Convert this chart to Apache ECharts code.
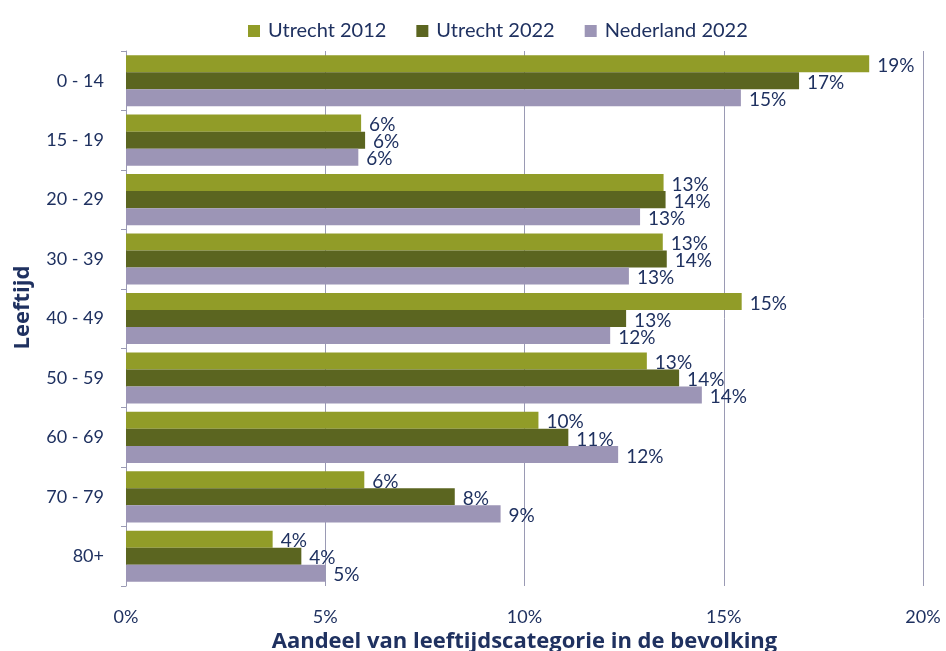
<!DOCTYPE html>
<html>
<head>
<meta charset="utf-8">
<script src="https://cdn.jsdelivr.net/npm/echarts@6/dist/echarts.min.js"></script>
<style>
  html, body { margin: 0; padding: 0; background: #ffffff; }
  #chart { width: 946px; height: 651px; }
</style>
</head>
<body>
<div id="chart"></div>
<script>
// Age groups, top to bottom
const categories = ['0 - 14', '15 - 19', '20 - 29', '30 - 39', '40 - 49', '50 - 59', '60 - 69', '70 - 79', '80+'];

// Share of each age group in the population (%)
const utrecht2012 = [18.65, 5.90, 13.49, 13.47, 15.45, 13.07, 10.35, 5.98, 3.68];
const utrecht2022 = [16.89, 6.00, 13.54, 13.57, 12.55, 13.88, 11.10, 8.25, 4.40];
const nederland2022 = [15.43, 5.83, 12.90, 12.62, 12.15, 14.45, 12.35, 9.40, 5.00];

const seriesNames = ['Utrecht 2012', 'Utrecht 2022', 'Nederland 2022'];
const xTicks = [0, 5, 10, 15, 20];

const navy = '#1f3160';
const fontFamily = 'Lato, "Open Sans", sans-serif';
const titleFont = '"Open Sans", Lato, sans-serif';
const colors = ['#919c28', '#5b6520', '#9c95b6'];

const chart = echarts.init(document.getElementById('chart'));

function barSeries(name, data, color) {
  return {
    name: name,
    type: 'bar',
    data: data,
    barGap: '0%',
    barCategoryGap: '14%',
    itemStyle: { color: color },
    label: {
      show: true,
      position: 'right',
      distance: 8,
      offset: [0, 2],
      color: navy,
      fontFamily: fontFamily,
      fontSize: 19,
      formatter: p => Math.round(p.value) + '%'
    }
  };
}

chart.setOption({
  animation: false,
  textStyle: { fontFamily: fontFamily },
  legend: {
    top: 16,
    left: 243,
    itemWidth: 12,
    itemHeight: 12,
    itemGap: 30,
    icon: 'rect',
    textStyle: { color: navy, fontSize: 20, fontFamily: fontFamily, padding: [0, 0, 0, 3] },
    data: seriesNames
  },
  grid: { left: 126, right: 23, top: 51, bottom: 65, containLabel: false, outerBoundsMode: 'none' },
  xAxis: {
    type: 'value',
    min: xTicks[0],
    max: xTicks[xTicks.length - 1],
    interval: 5,
    name: 'Aandeel van leeftijdscategorie in de bevolking',
    nameLocation: 'middle',
    nameGap: 40,
    nameTextStyle: { color: navy, fontSize: 22, fontWeight: 'bold', fontFamily: titleFont },
    axisLine: { show: false },
    axisTick: { show: false },
    axisLabel: { color: navy, fontSize: 18, margin: 22, formatter: '{value}%' },
    splitLine: { show: true, lineStyle: { color: '#9a9ab4', width: 1 } }
  },
  yAxis: {
    type: 'category',
    inverse: true,
    data: categories,
    name: 'Leeftijd',
    nameLocation: 'middle',
    nameGap: 92,
    nameRotate: 90,
    nameTextStyle: { color: navy, fontSize: 22, fontWeight: 'bold', fontFamily: titleFont, padding: [0, 0, 0, 22] },
    axisLine: { show: true, lineStyle: { color: '#9a9ab4', width: 1 } },
    axisTick: { show: true, length: 5, lineStyle: { color: '#9a9ab4' } },
    axisLabel: { color: navy, fontSize: 18, margin: 22 }
  },
  series: [
    barSeries(seriesNames[0], utrecht2012, colors[0]),
    barSeries(seriesNames[1], utrecht2022, colors[1]),
    barSeries(seriesNames[2], nederland2022, colors[2])
  ]
});
</script>
</body>
</html>
